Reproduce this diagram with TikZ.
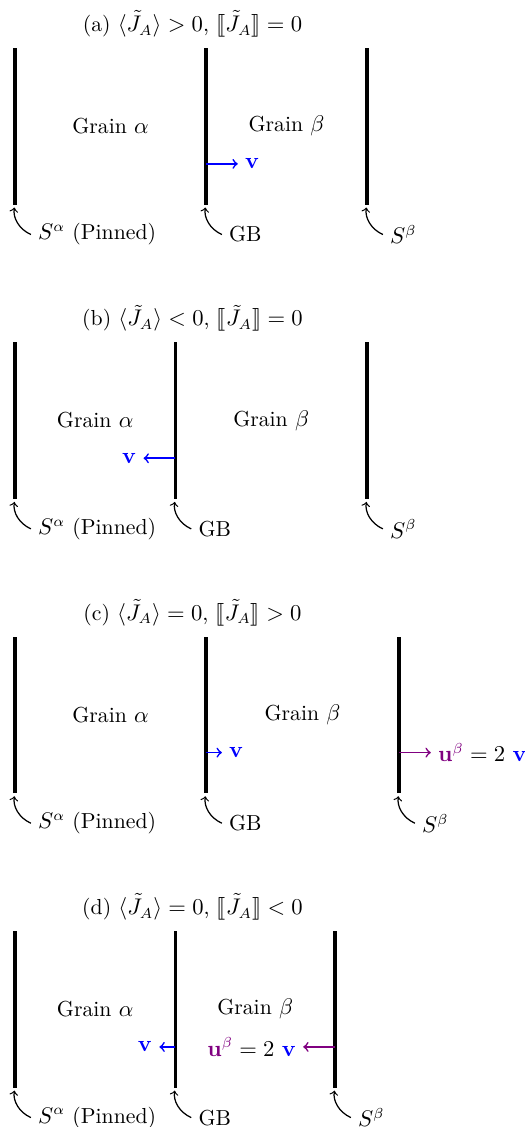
\documentclass[tikz,border=0pt]{standalone}
\usepackage{amsmath,amssymb}
\usepackage{stmaryrd}
\usepackage{tikz}
\usetikzlibrary{calc}
\definecolor{uViolet}{rgb}{0.5,0,0.5}

\begin{document}
\begin{tikzpicture}[
  font=\fontsize{10.5}{12.6}\selectfont,
  wall/.style={line width=1.5pt},
  lbl/.style={anchor=west},
  pin/.style={->, semithick, shorten >=1.5pt, bend left=38},
  vel/.style={->, thick, blue},
  disp/.style={->, thick, uViolet},
]
\useasboundingbox (0,0) rectangle (8.918,-19.144);
% (a) mean flux only
\begin{scope}[yshift=-3.474cm]
\node (ta) at (3.27,3.066) {(a) $\langle\tilde{J}_A\rangle>0$, $\llbracket\tilde{J}_A\rrbracket=0$};
\coordinate (sAa) at (0.255,0);
\coordinate (gba) at (3.499,0);
\coordinate (sBa) at (6.234,0);
\draw[wall] (sAa) -- ++(0,2.66);
\draw[wall] (gba) -- ++(0,2.66);
\draw[wall] (sBa) -- ++(0,2.66);
\node (gAa) at ($(sAa)!0.5!(gba)+(0,1.33)$) {Grain $\alpha$};
\node (gBa) at ($(gba)!0.5!(sBa)+(0,1.33)$) {Grain $\beta$};
\node[lbl] (lAa) at ($(sAa)+(0.27,-0.51)$) {$S^\alpha$ (Pinned)};
\node[lbl] (lGa) at ($(gba)+(0.27,-0.51)$) {GB};
\node[lbl] (lBa) at ($(sBa)+(0.27,-0.51)$) {$S^\beta$};
\draw[pin] (lAa.west) to (sAa);
\draw[pin] (lGa.west) to (gba);
\draw[pin] (lBa.west) to (sBa);
\coordinate (v0a) at ($(gba)+(0,0.69)$);
\node[anchor=west, blue] (va) at ($(v0a)+(0.54,0)$) {$\mathbf{v}$};
\draw[vel] (v0a) -- (va.west);
\end{scope}
% (b) mean flux reversed
\begin{scope}[yshift=-8.474cm]
\node (tb) at (3.27,3.066) {(b) $\langle\tilde{J}_A\rangle<0$, $\llbracket\tilde{J}_A\rrbracket=0$};
\coordinate (sAb) at (0.255,0);
\coordinate (gbb) at (2.978,0);
\coordinate (sBb) at (6.234,0);
\draw[wall] (sAb) -- ++(0,2.66);
\draw[wall] (gbb) -- ++(0,2.66);
\draw[wall] (sBb) -- ++(0,2.66);
\node (gAb) at ($(sAb)!0.5!(gbb)+(0,1.33)$) {Grain $\alpha$};
\node (gBb) at ($(gbb)!0.5!(sBb)+(0,1.33)$) {Grain $\beta$};
\node[lbl] (lAb) at ($(sAb)+(0.27,-0.51)$) {$S^\alpha$ (Pinned)};
\node[lbl] (lGb) at ($(gbb)+(0.27,-0.51)$) {GB};
\node[lbl] (lBb) at ($(sBb)+(0.27,-0.51)$) {$S^\beta$};
\draw[pin] (lAb.west) to (sAb);
\draw[pin] (lGb.west) to (gbb);
\draw[pin] (lBb.west) to (sBb);
\coordinate (v0b) at ($(gbb)+(0,0.69)$);
\node[anchor=east, blue] (vb) at ($(v0b)+(-0.54,0)$) {$\mathbf{v}$};
\draw[vel] (v0b) -- (vb.east);
\end{scope}
% (c) positive jump
\begin{scope}[yshift=-13.474cm]
\node (tc) at (3.27,3.066) {(c) $\langle\tilde{J}_A\rangle=0$, $\llbracket\tilde{J}_A\rrbracket>0$};
\coordinate (sAc) at (0.255,0);
\coordinate (gbc) at (3.499,0);
\coordinate (sBc) at (6.778,0);
\draw[wall] (sAc) -- ++(0,2.66);
\draw[wall] (gbc) -- ++(0,2.66);
\draw[wall] (sBc) -- ++(0,2.66);
\node (gAc) at ($(sAc)!0.5!(gbc)+(0,1.33)$) {Grain $\alpha$};
\node (gBc) at ($(gbc)!0.5!(sBc)+(0,1.33)$) {Grain $\beta$};
\node[lbl] (lAc) at ($(sAc)+(0.27,-0.51)$) {$S^\alpha$ (Pinned)};
\node[lbl] (lGc) at ($(gbc)+(0.27,-0.51)$) {GB};
\node[lbl] (lBc) at ($(sBc)+(0.27,-0.51)$) {$S^\beta$};
\draw[pin] (lAc.west) to (sAc);
\draw[pin] (lGc.west) to (gbc);
\draw[pin] (lBc.west) to (sBc);
\coordinate (v0c) at ($(gbc)+(0,0.69)$);
\node[anchor=west, blue] (vc) at ($(v0c)+(0.27,0)$) {$\mathbf{v}$};
\draw[vel] (v0c) -- (vc.west);
\coordinate (u0c) at ($(sBc)+(0,0.69)$);
\node[anchor=west] (uc) at ($(u0c)+(0.54,0)$) {$\textcolor{uViolet}{\mathbf{u}^\beta} = 2$ \textcolor{blue}{$\mathbf{v}$}};
\draw[disp] (u0c) -- (uc.west);
\end{scope}
% (d) negative jump
\begin{scope}[yshift=-18.474cm]
\node (td) at (3.27,3.066) {(d) $\langle\tilde{J}_A\rangle=0$, $\llbracket\tilde{J}_A\rrbracket<0$};
\coordinate (sAd) at (0.255,0);
\coordinate (gbd) at (2.978,0);
\coordinate (sBd) at (5.691,0);
\draw[wall] (sAd) -- ++(0,2.66);
\draw[wall] (gbd) -- ++(0,2.66);
\draw[wall] (sBd) -- ++(0,2.66);
\node (gAd) at ($(sAd)!0.5!(gbd)+(0,1.33)$) {Grain $\alpha$};
\node (gBd) at ($(gbd)!0.5!(sBd)+(0,1.33)$) {Grain $\beta$};
\node[lbl] (lAd) at ($(sAd)+(0.27,-0.51)$) {$S^\alpha$ (Pinned)};
\node[lbl] (lGd) at ($(gbd)+(0.27,-0.51)$) {GB};
\node[lbl] (lBd) at ($(sBd)+(0.27,-0.51)$) {$S^\beta$};
\draw[pin] (lAd.west) to (sAd);
\draw[pin] (lGd.west) to (gbd);
\draw[pin] (lBd.west) to (sBd);
\coordinate (v0d) at ($(gbd)+(0,0.69)$);
\node[anchor=east, blue] (vd) at ($(v0d)+(-0.27,0)$) {$\mathbf{v}$};
\draw[vel] (v0d) -- (vd.east);
\coordinate (u0d) at ($(sBd)+(0,0.69)$);
\node[anchor=east] (ud) at ($(u0d)+(-0.54,0)$) {$\textcolor{uViolet}{\mathbf{u}^\beta} = 2$ \textcolor{blue}{$\mathbf{v}$}};
\draw[disp] (u0d) -- (ud.east);
\end{scope}
\end{tikzpicture}
\end{document}
